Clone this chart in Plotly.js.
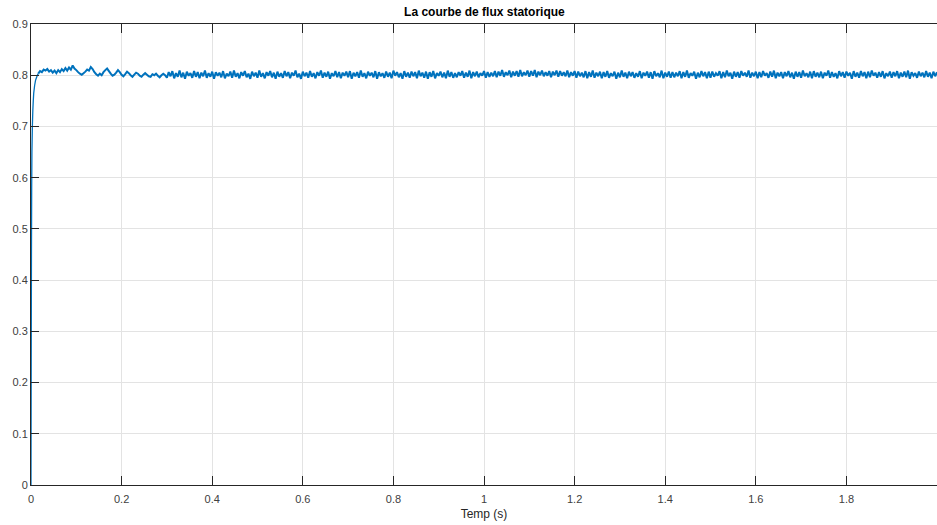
<!DOCTYPE html>
<html>
<head>
<meta charset="utf-8">
<script src="https://cdn.plot.ly/plotly-3.0.1.min.js"></script>
<style>html,body{margin:0;padding:0;background:#fff;}#chart{width:937px;height:525px;}</style>
</head>
<body>
<div id="chart"></div>
<script>
// Start-up transient (explicit sample times, s)
var tTransient = [0, 0.0005, 0.001, 0.0015, 0.002, 0.003, 0.004, 0.005, 0.006, 0.008, 0.010, 0.012, 0.014, 0.016];
var fluxTransient = [0, 0.25, 0.45, 0.58, 0.65, 0.70, 0.73, 0.75, 0.765, 0.78, 0.79, 0.795, 0.80, 0.803];

// Sampled signal after transient: starts at t = 0.016 s, step 0.004 s
var sampleStart = 0.016;
var sampleStep = 0.004;
var fluxOscillation = [
0.803,0.808,0.806,0.811,0.809,0.812,0.807,0.810,0.805,0.809,0.804,0.810,0.806,0.812,0.808,0.814,0.809,0.815,0.811,0.819,0.813,
0.810,0.806,0.803,0.801,0.804,0.807,0.811,0.809,0.816,0.812,
0.806,0.802,0.799,0.803,0.800,0.806,0.810,0.813,0.808,0.803,
0.799,0.801,0.805,0.810,0.806,0.801,0.798,0.802,0.807,0.804,
0.800,0.797,0.801,0.805,0.803,0.799,0.797,0.801,0.804,0.801,
0.798,0.797,0.802,0.800,0.803,0.799,0.796,0.800,0.803,0.800
];
var fluxSteady = [
0.795,0.806,0.798,0.808,0.794,0.804,0.797,0.809,0.796,0.805,0.793,0.807,0.799,0.804,0.795,0.808,0.797,0.806,0.794,0.805,
0.798,0.809,0.795,0.804,0.797,0.807,0.793,0.806,0.799,0.805,0.796,0.808,0.794,0.803,0.798,0.807,0.795,0.809,0.797,0.804,
0.794,0.806,0.799,0.808,0.796,0.803,0.793,0.807,0.798,0.805,0.795,0.809,0.797,0.804,0.794,0.806,0.799,0.808,0.796,0.805,
0.793,0.807,0.797,0.804,0.795,0.808,0.798,0.806,0.794,0.805,0.799,0.809,0.796,0.803,0.793,0.807,0.798,0.805,0.795,0.808,
0.797,0.804,0.794,0.806,0.799,0.809,0.795,0.805,0.797,0.807,0.793,0.804,0.798,0.808,0.796,0.806,0.794,0.805,0.799,0.807,
0.796,0.808,0.793,0.805,0.798,0.806,0.795,0.809,0.797,0.804,0.794,0.807,0.799,0.805,0.796,0.808,0.793,0.806,0.798,0.804,
0.795,0.807,0.797,0.805,0.794,0.809,0.799,0.806,0.796,0.804,0.793,0.808,0.797,0.805,0.795,0.807,0.798,0.806,0.794,0.809,
0.798,0.805,0.795,0.807,0.793,0.806,0.797,0.808,0.794,0.804,0.799,0.807,0.796,0.805,0.794,0.809,0.797,0.806,0.795,0.804,
0.796,0.806,0.799,0.808,0.795,0.805,0.797,0.809,0.794,0.806,0.798,0.807,0.796,0.804,0.799,0.808,0.795,0.806,0.797,0.805,
0.798,0.808,0.796,0.807,0.799,0.810,0.797,0.806,0.800,0.809,0.796,0.807,0.799,0.808,0.797,0.810,0.798,0.806,0.800,0.809,
0.797,0.808,0.799,0.810,0.796,0.807,0.800,0.809,0.798,0.806,0.799,0.808,0.796,0.807,0.800,0.809,0.797,0.808,0.799,0.806,
0.798,0.809,0.796,0.806,0.799,0.808,0.795,0.807,0.798,0.805,0.796,0.808,0.794,0.806,0.797,0.809,0.795,0.805,0.798,0.807,
0.794,0.806,0.797,0.808,0.795,0.804,0.798,0.807,0.793,0.805,0.796,0.809,0.797,0.805,0.794,0.807,0.798,0.806,0.795,0.804,
0.797,0.808,0.794,0.805,0.799,0.807,0.795,0.806,0.793,0.808,0.798,0.804,0.796,0.809,0.794,0.805,0.797,0.807,0.795,0.806,
0.796,0.805,0.798,0.808,0.794,0.806,0.797,0.809,0.795,0.804,0.799,0.807,0.793,0.805,0.796,0.808,0.798,0.806,0.794,0.807,
0.795,0.807,0.797,0.804,0.799,0.808,0.794,0.806,0.796,0.809,0.798,0.805,0.793,0.807,0.797,0.806,0.795,0.808,0.799,0.805,
0.797,0.809,0.795,0.805,0.798,0.807,0.794,0.806,0.796,0.808,0.799,0.804,0.795,0.807,0.797,0.809,0.794,0.805,0.798,0.806,
0.794,0.806,0.798,0.808,0.796,0.805,0.793,0.807,0.797,0.806,0.795,0.809,0.798,0.804,0.796,0.807,0.794,0.808,0.797,0.805,
0.796,0.807,0.794,0.805,0.799,0.809,0.795,0.806,0.797,0.804,0.794,0.808,0.798,0.806,0.795,0.807,0.799,0.805,0.793,0.808,
0.797,0.805,0.795,0.808,0.798,0.806,0.794,0.807,0.796,0.809,0.799,0.805,0.795,0.806,0.797,0.808,0.794,0.804,0.798,0.807,
0.795,0.806,0.798,0.808,0.794,0.805,0.797,0.807,0.796,0.809,0.793,0.806,0.799,0.804,0.795,0.807,0.798,0.805,0.796,0.808,
0.797,0.805,0.794,0.807,0.798,0.806
];

var xTickVals = [0, 0.2, 0.4, 0.6, 0.8, 1, 1.2, 1.4, 1.6, 1.8];
var xTickText = ['0', '0.2', '0.4', '0.6', '0.8', '1', '1.2', '1.4', '1.6', '1.8'];
var yTickVals = [0, 0.1, 0.2, 0.3, 0.4, 0.5, 0.6, 0.7, 0.8, 0.9];
var yTickText = ['0', '0.1', '0.2', '0.3', '0.4', '0.5', '0.6', '0.7', '0.8', '0.9'];

var lineColor = '#0072BD';
var traces = [
  {x: tTransient, y: fluxTransient, type: 'scatter', mode: 'lines',
   line: {color: lineColor, width: 1.3, simplify: false}, hoverinfo: 'skip'},
  {y: fluxOscillation.concat(fluxSteady), x0: sampleStart, dx: sampleStep,
   type: 'scatter', mode: 'lines', line: {color: lineColor, width: 2, simplify: false}, hoverinfo: 'skip'}
];

var axisCommon = {
  showline: true, linecolor: '#262626', linewidth: 1,
  ticks: 'inside', tickcolor: '#262626', tickwidth: 1,
  showgrid: true, gridcolor: '#e3e3e3', gridwidth: 1, zeroline: false,
  tickfont: {family: 'Liberation Sans, Arial, sans-serif', size: 11, color: '#404040'}
};

var layout = {
  width: 937, height: 525,
  margin: {l: 31, r: 0, t: 24, b: 40},
  paper_bgcolor: '#ffffff', plot_bgcolor: '#ffffff',
  showlegend: false,
  title: {text: '<b>La courbe de flux statorique</b>', x: 0.517, xanchor: 'center', y: 0.977, yanchor: 'middle',
          font: {family: 'Liberation Sans, Arial, sans-serif', size: 12, color: '#000000'}},
  xaxis: Object.assign({}, axisCommon, {
    mirror: 'ticks',
    range: [0, 2], tickvals: xTickVals, ticktext: xTickText, ticklen: 9, ticklabelstandoff: 4,
    title: {text: 'Temp (s)', standoff: 5, font: {family: 'Liberation Sans, Arial, sans-serif', size: 12, color: '#262626'}}
  }),
  yaxis: Object.assign({}, axisCommon, {
    mirror: false,
    range: [0, 0.9], tickvals: yTickVals, ticktext: yTickText, ticklen: 8
  })
};

Plotly.newPlot('chart', traces, layout, {displayModeBar: false, staticPlot: true});
</script>
</body>
</html>
